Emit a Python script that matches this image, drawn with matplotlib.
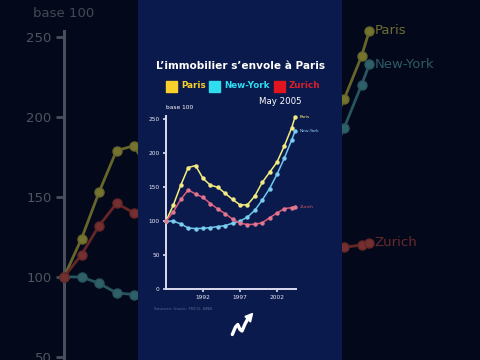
import matplotlib
matplotlib.use("Agg")
import matplotlib.pyplot as plt
from matplotlib.patches import Rectangle, Polygon
from matplotlib.lines import Line2D

years = [1987, 1988, 1989, 1990, 1991, 1992, 1993, 1994, 1995, 1996,
         1997, 1998, 1999, 2000, 2001, 2002, 2003, 2004, 2004.45]
paris = [100, 124, 153, 179, 182, 163, 153, 150, 141, 132,
         124, 124, 137, 157, 172, 187, 211, 238, 254]
newyork = [100, 100, 96, 90, 89, 89.5, 90.5, 92, 93.5, 97,
           100, 106, 116, 131, 148, 169, 193, 220, 233]
zurich = [100, 114, 132, 146, 140, 135, 126, 118, 111, 103,
          97, 95, 95.5, 97.5, 105, 112, 118.5, 120, 121.5]
series_names = ["Paris", "New-York", "Zurich"]
yticks = [0, 50, 100, 150, 200, 250]
xticks = [1992, 1997, 2002]
title = "L\u2019immobilier s\u2019envole \u00e0 Paris"
date_label = "May 2005"
unit_label = "base 100"
source = "Sources: Insee, FBCO, BNB"

W, H = 480, 360
fig = plt.figure(figsize=(4.8, 3.6), dpi=100)
fig.patch.set_facecolor("#03081a")

def fx(px):
    return px / W

def fy(py):
    return 1 - py / H

# ---------- dimmed background chart ----------
bg = fig.add_axes([0, 0, 1, 1])
bg.set_facecolor("#03081a")
bg.set_xlim(1983.34, 2010.77)
bg.set_ylim(48.1, 273.1)
for s in ["top", "right", "bottom"]:
    bg.spines[s].set_visible(False)
bg.spines["left"].set_position(("data", 1987))
bg.spines["left"].set_bounds(40, 254)
bg.spines["left"].set_color("#4a4e5a")
bg.spines["left"].set_linewidth(2.2)
bg.set_xticks([])
bg.set_yticks([50, 100, 150, 200, 250])
bg.tick_params(axis="y", colors="#4a4e5a", labelcolor="#50545f",
               length=6, width=2, labelsize=9.5, pad=3)
bg_cols = ["#66662a", "#285560", "#662626"]
bg_mcols = ["#75742f", "#2f6068", "#743030"]
bg_tcols = ["#6e6c30", "#2c5a64", "#6a2a2c"]
for vals, c, mc, tc, name in zip([paris, newyork, zurich], bg_cols, bg_mcols,
                                 bg_tcols, series_names):
    bg.plot(years, vals, color=c, lw=2.0, marker="o", ms=6.5,
            mfc=mc, mec=c, mew=1, zorder=3)
    bg.text(years[-1] + 0.3, vals[-1], name, color=tc, fontsize=9.5,
            va="center", ha="left")
bg.text(1987, 264.5, unit_label, color="#454956", fontsize=9.5, ha="center", va="center")

# ---------- central panel ----------
panel = fig.add_axes([fx(138), 0, fx(204), 1])
panel.set_facecolor("#0b1a4c")
panel.set_xticks([])
panel.set_yticks([])
for s in panel.spines.values():
    s.set_visible(False)

# ---------- main chart ----------
left, right, bottom, top = 166, 296, 289, 116
ax = fig.add_axes([fx(left), fy(bottom), fx(right - left), (bottom - top) / H])
ax.set_facecolor("none")
ax.set_xlim(1987, 2004.57)
ax.set_ylim(0, 255)
for s in ["top", "right"]:
    ax.spines[s].set_visible(False)
for s in ["left", "bottom"]:
    ax.spines[s].set_color("#dcdcf0")
    ax.spines[s].set_linewidth(1.4)
ax.set_yticks(yticks)
ax.set_xticks(xticks)
ax.set_yticklabels([str(t) for t in yticks])
ax.set_xticklabels([str(t) for t in xticks])
ax.tick_params(colors="#dcdcf0", labelcolor="#e8e8f4", labelsize=4.2,
               length=2.5, width=1.2, pad=2)

line_cols = ["#f5ee7a", "#6cc8ee", "#e05a78"]
mark_cols = ["#f3ea84", "#7ccdf0", "#e07890"]
lab_cols = ["#f5ee7a", "#8cd4f2", "#e05a6a"]
for vals, c, mc, lc, name in zip([paris, newyork, zurich], line_cols, mark_cols,
                                 lab_cols, series_names):
    ax.plot(years, vals, color=c, lw=1.1, marker="o", ms=2.8,
            mfc=mc, mec=mc, mew=0.3, clip_on=False, zorder=3)
    ax.annotate(name, (years[-1], vals[-1]), xytext=(3, 0),
                textcoords="offset points", color=lc, fontsize=3.2,
                va="center", ha="left", annotation_clip=False)

fig.text(fx(166), fy(107), unit_label, color="white", fontsize=4.2,
         ha="left", va="center")
fig.text(fx(241), fy(66), title, color="white", fontsize=7.6,
         ha="center", va="center", fontweight="bold")
fig.text(fx(280), fy(102), date_label, color="white", fontsize=6.2,
         ha="center", va="center")
fig.text(fx(154), fy(309), source, color="#5a6690", fontsize=3.2,
         ha="left", va="center")

# legend (coloured squares + labels)
leg_sq = ["#fbd02a", "#2fdcf0", "#e0161e"]
leg_tx = ["#fbd02a", "#2fdcf0", "#d8202a"]
leg_x = [166, 209, 274]
for x0, sc, tc, name in zip(leg_x, leg_sq, leg_tx, series_names):
    fig.patches.append(Rectangle((fx(x0), fy(92)), fx(11), 11 / H,
                                 transform=fig.transFigure, color=sc, zorder=5))
    fig.text(fx(x0 + 15), fy(86), name, color=tc, fontsize=6.3,
             fontweight="bold", ha="left", va="center", zorder=6)

# rising arrow icon
px = [232.3, 235.5, 237.8, 240.0, 242.0, 245.0, 248.0]
py = [334.5, 327.0, 324.5, 329.5, 331.0, 324.0, 318.5]
fig.lines.append(Line2D([fx(p) for p in px], [fy(p) for p in py],
                        transform=fig.transFigure, color="white", lw=2.4,
                        solid_capstyle="round", solid_joinstyle="round", zorder=6))
tri = [(252.5, 313.5), (245.0, 316.5), (250.5, 322.0)]
fig.patches.append(Polygon([(fx(a), fy(b)) for a, b in tri], closed=True,
                           transform=fig.transFigure, color="white", zorder=6))

fig.savefig("out.png", dpi=100, facecolor=fig.get_facecolor())
